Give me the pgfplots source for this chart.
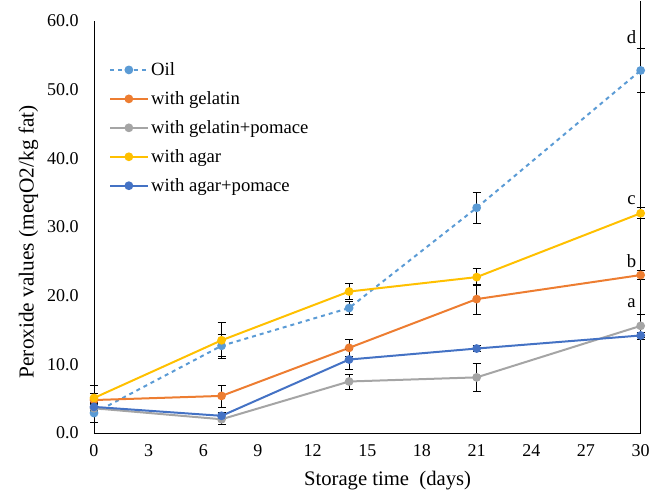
\documentclass[border=0pt]{standalone}
\usepackage{pgfplots}
\pgfplotsset{compat=1.18}
\usepackage{fontspec}
\setmainfont{Liberation Serif}

\definecolor{oilc}{HTML}{5B9BD5}
\definecolor{gelc}{HTML}{ED7D31}
\definecolor{gelpc}{HTML}{A5A5A5}
\definecolor{agarc}{HTML}{FFC000}
\definecolor{agarpc}{HTML}{4472C4}

\begin{document}
\begin{tikzpicture}
\path[use as bounding box] (-70.5pt,-46.5pt) rectangle (417pt,324.75pt);
\begin{axis}[
    scale only axis,
    width=410pt, height=309pt,
    xmin=0, xmax=30, ymin=0, ymax=60,
    xtick={0,3,...,30}, ytick={0,10,...,60},
    axis x line*=bottom, axis y line*=left,
    axis line style={black, line width=0.6pt, -},
    major tick length=0pt,
    clip=false,
    /pgf/number format/assume math mode=true,
    yticklabel style={/pgf/number format/fixed, /pgf/number format/fixed zerofill,
        /pgf/number format/precision=1, xshift=-8pt},
    ticklabel style={font=\fontsize{13.5}{15}\selectfont},
    xticklabel style={yshift=-5pt},
    xlabel={Storage time\ \ (days)},
    ylabel={Peroxide values (meqO2/kg fat)},
    xlabel style={font=\fontsize{15.5}{17}\selectfont, at={(axis description cs:0.537,-0.116)}, anchor=center},
    ylabel style={font=\fontsize{16}{18}\selectfont, at={(axis description cs:-0.12,0.464)}, anchor=center},
    legend cell align=left,
    legend style={draw=none, fill=none, at={(axis description cs:0.02,0.913)}, anchor=north west,
        font=\fontsize{14}{16}\selectfont, row sep=6.5pt},
    legend image code/.code={\draw[mark repeat=2,mark phase=2] plot coordinates {(0pt,0pt) (14pt,0pt) (28pt,0pt)};},
    every axis plot/.append style={line width=1.5pt, mark=*, mark size=2.5pt},
    error bars/error bar style={black, line width=0.6pt, solid},
    error bars/error mark options={black, rotate=90, mark size=3pt, line width=0.6pt, solid},
]
\addplot[color=oilc, dashed, mark options={solid}, error bars/.cd, y dir=both, y explicit]
    coordinates {(0,2.9) +- (0,1.3) (7,12.7) +- (0,1.6) (14,18.2) +- (0,0.9) (21,32.8) +- (0,2.3) (30,52.8) +- (0,3.2)};
\addlegendentry{Oil}
\addplot[color=gelc, error bars/.cd, y dir=both, y explicit]
    coordinates {(0,4.8) +- (0,1.0) (7,5.4) +- (0,1.6) (14,12.4) +- (0,1.2) (21,19.5) +- (0,2.2) (30,23.0) +- (0,0.7)};
\addlegendentry{with gelatin}
\addplot[color=gelpc, error bars/.cd, y dir=both, y explicit]
    coordinates {(0,3.6) +- (0,0.8) (7,2.0) +- (0,0.8) (14,7.5) +- (0,1.1) (21,8.1) +- (0,2.0) (30,15.6) +- (0,1.7)};
\addlegendentry{with gelatin+pomace}
\addplot[color=agarc, error bars/.cd, y dir=both, y explicit]
    coordinates {(0,5.1) +- (0,1.9) (7,13.5) +- (0,2.6) (14,20.6) +- (0,1.2) (21,22.7) +- (0,1.2) (30,32.0) +- (0,0.8)};
\addlegendentry{with agar}
\addplot[color=agarpc, error bars/.cd, y dir=both, y explicit]
    coordinates {(0,3.8) +- (0,0.5) (7,2.5) +- (0,0.5) (14,10.7) +- (0,1.5) (21,12.3) +- (0,0.4) (30,14.2) +- (0,0.5)};
\addlegendentry{with agar+pomace}
\draw[black, line width=0.6pt] (rel axis cs:1,0) -- (rel axis cs:1,1) -- ++(0,15pt);
\node[font=\fontsize{14}{16}\selectfont] at (axis cs:29.5,57.7) {d};
\node[font=\fontsize{14}{16}\selectfont] at (axis cs:29.5,33.9) {c};
\node[font=\fontsize{14}{16}\selectfont] at (axis cs:29.5,25.0) {b};
\node[font=\fontsize{14}{16}\selectfont] at (axis cs:29.5,18.9) {a};
\end{axis}
\end{tikzpicture}
\end{document}
